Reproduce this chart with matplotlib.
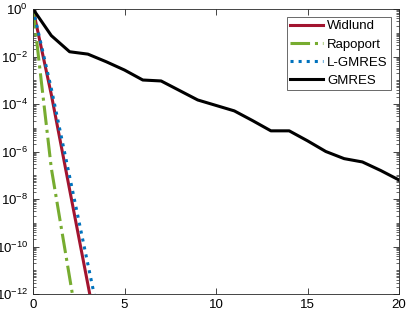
import numpy as np
import matplotlib
matplotlib.use('Agg')
import matplotlib.pyplot as plt
from matplotlib.ticker import LogLocator, FixedLocator, FuncFormatter

plt.rcParams['font.family'] = ['Liberation Sans', 'DejaVu Sans']
plt.rcParams['mathtext.fontset'] = 'custom'
plt.rcParams['mathtext.rm'] = 'Liberation Sans'
plt.rcParams['mathtext.it'] = 'Liberation Sans'
plt.rcParams['mathtext.default'] = 'regular'

# log10 of residuals
widlund = [0, -3.6, -7.6, -11.6, -15.6]
rapoport = [0, -6.7, -11.3, -15.9]
lgmres = [0, -3.35, -7.05, -10.75, -14.45]
gmres = [0, -1.12, -1.8, -1.9, -2.22, -2.57, -2.99, -3.03, -3.43, -3.83,
         -4.06, -4.29, -4.7, -5.13, -5.13, -5.55, -6.0, -6.3, -6.44, -6.8, -7.2]

fig = plt.figure(figsize=(4.07, 3.13), dpi=100)
ax = fig.add_axes([33/407, 19/313, 366/407, 285/313])

ax.semilogy(np.arange(len(widlund)), 10.0**np.array(widlund), '-', color='#A2142F', lw=2.2, label='Widlund')
ax.semilogy(np.arange(len(rapoport)), 10.0**np.array(rapoport), '-.', color='#77AC30', lw=2.2, label='Rapoport')
ax.semilogy(np.arange(len(lgmres)), 10.0**np.array(lgmres), ':', color='#0072BD', lw=2.2, label='L-GMRES')
ax.semilogy(np.arange(len(gmres)), 10.0**np.array(gmres), '-', color='k', lw=2.2, label='GMRES')

ax.set_xlim(0, 20)
ax.set_ylim(1e-12, 1e0)
ax.set_xticks([0, 5, 10, 15, 20])
ax.yaxis.set_major_locator(FixedLocator([10.0**k for k in range(-12, 1, 2)]))
ax.yaxis.set_major_formatter(FuncFormatter(lambda v, p: '$10^{%d}$' % round(np.log10(v))))
ax.yaxis.set_minor_locator(LogLocator(base=10, subs=np.arange(1, 10), numticks=30))
ax.yaxis.set_minor_formatter(FuncFormatter(lambda v, p: ''))

for s in ax.spines.values():
    s.set_color('#262626')
    s.set_linewidth(0.6)
ax.tick_params(which='both', direction='in', top=True, right=True, colors='#262626', labelsize=9.5, labelcolor='k')
ax.tick_params(which='major', length=4, width=0.6)
ax.tick_params(which='minor', length=2, width=0.5)
ax.tick_params(axis='x', which='minor', bottom=False, top=False)

leg = ax.legend(loc='upper right', fontsize=9.5, frameon=True, fancybox=False,
                edgecolor='#262626', handlelength=2.5, borderpad=0.25, labelspacing=0.45,
                handletextpad=0.3, borderaxespad=0.6)
leg.get_frame().set_linewidth(0.6)

fig.savefig('out.png', dpi=100)
